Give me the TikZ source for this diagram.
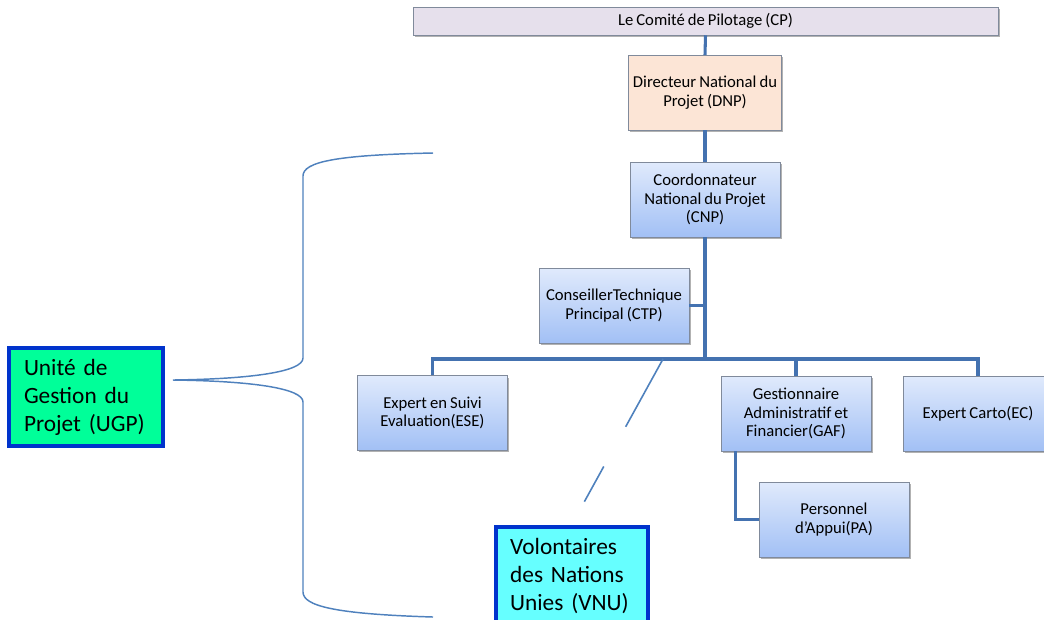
\documentclass[tikz,border=0pt]{standalone}
\usepackage{fontspec}
\setmainfont{Carlito}[WordSpace=0.8]
\newfontfamily\bigfont{Carlito}[WordSpace=0.6]
\usetikzlibrary{positioning,shadows}

\definecolor{linkblue}{RGB}{68,114,176}
\definecolor{bracecol}{RGB}{79,129,189}
\definecolor{boxgray}{RGB}{128,138,155}
\definecolor{boxtop}{RGB}{224,234,252}
\definecolor{boxbot}{RGB}{162,192,245}
\definecolor{cplilac}{RGB}{230,224,236}
\definecolor{dnppeach}{RGB}{252,229,214}
\definecolor{ugpgreen}{RGB}{0,255,153}
\definecolor{vnucyan}{RGB}{102,255,255}
\definecolor{darkblue}{RGB}{0,51,204}

\begin{document}
\begin{tikzpicture}[x=0.75pt,y=-0.75pt] % 1 unit = 1 pixel of the screenshot
\tikzstyle{unit}=[draw=boxgray, minimum width=112.5pt, minimum height=56pt, align=center,
  font=\fontsize{12.5pt}{13.8pt}\selectfont,
  drop shadow={shadow xshift=1.2pt, shadow yshift=-1.5pt, opacity=0.3, fill=black}]
\tikzstyle{box}=[unit, top color=boxtop, bottom color=boxbot]
\tikzstyle{big}=[draw=darkblue, line width=3pt, align=left, inner xsep=11pt,
  font=\bigfont\fontsize{17.5pt}{21pt}\selectfont]
\tikzstyle{link}=[draw=linkblue, line width=2.3pt]
\tikzstyle{brace}=[draw=bracecol, line width=1.1pt]

\useasboundingbox (0,0) rectangle (1044,619);

% the chart
\node[unit, fill=cplilac, minimum width=438.75pt, minimum height=21pt] (cp) at (705.5,21) {Le Comité de Pilotage (CP)};
\node[unit, fill=dnppeach] (dnp) at (705,92.5) {Directeur National du\\Projet (DNP)};
\node[box] (cnp) at (705,199.5) {Coordonnateur\\National du Projet\\(CNP)};
\node[box] (ctp) at (614,305.5) {ConseillerTechnique\\Principal (CTP)};
\node[box] (ese) at (432.5,413) {Expert en Suivi\\Evaluation(ESE)};
\node[box] (gaf) at (796,413.5) {Gestionnaire\\Administratif et\\Financier(GAF)};
\node[box] (ec) at (978,413.5) {Expert Carto(EC)};
\node[box] (pa) at (834,519.5) {Personnel\\d’Appui(PA)};

\coordinate (bus) at (705,359);
\coordinate (busv) at (663,359);

% the two groups
\node[big, fill=ugpgreen, text width=93pt, minimum height=74pt] (ugp) at (86,397) {Unité de\\Gestion du\\Projet (UGP)};
\node[big, fill=vnucyan, text width=92pt, anchor=north, minimum height=74pt] (vnu) at (571.5,525) {Volontaires\\des Nations\\Unies (VNU)};
\coordinate (tip) at (173,380);

\draw[link] (cp.south) -- (dnp.north);
\draw[link] (dnp.south) -- (cnp.north);
\draw[link] (cnp.south) -- (bus);
\draw[link] (ctp.east) -- (ctp.east -| bus);
\draw[link] (ese.north) |- (bus) -| (ec.north);
\draw[link] (gaf.north) -- (gaf.north |- bus);
\draw[link] ([xshift=11.25pt]gaf.south west) |- (pa.west);

\draw[draw=bracecol, line width=1.2pt, dash pattern=on 58pt off 34pt on 31pt off 60pt, shorten >=20pt] (busv) -- (vnu.north);

\draw[brace] (433,153) .. controls (335,155) and (303,162) .. (303,176) -- (303,358)
  .. controls (303,372) and (250,379) .. (tip)
  .. controls (250,381) and (303,388) .. (303,402) -- (303,592)
  .. controls (303,606) and (335,614) .. (433,617);
\end{tikzpicture}
\end{document}
